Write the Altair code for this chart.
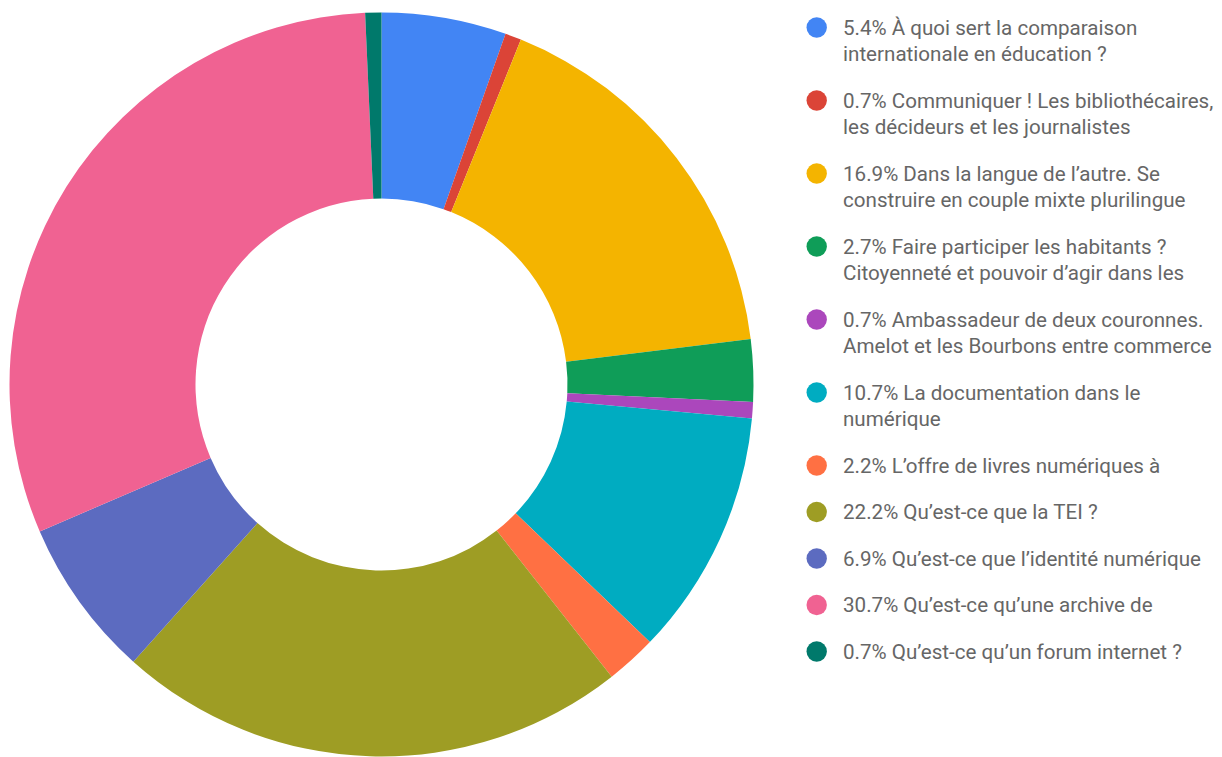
import altair as alt
import pandas as pd

# ---- data ----
categories = [
    "À quoi sert la comparaison\ninternationale en éducation ?",
    "Communiquer ! Les bibliothécaires,\nles décideurs et les journalistes",
    "Dans la langue de l’autre. Se\nconstruire en couple mixte plurilingue",
    "Faire participer les habitants ?\nCitoyenneté et pouvoir d’agir dans les",
    "Ambassadeur de deux couronnes.\nAmelot et les Bourbons entre commerce",
    "La documentation dans le\nnumérique",
    "L’offre de livres numériques à",
    "Qu’est-ce que la TEI ?",
    "Qu’est-ce que l’identité numérique",
    "Qu’est-ce qu’une archive de",
    "Qu’est-ce qu’un forum internet ?",
]
percents = [5.4, 0.7, 16.9, 2.7, 0.7, 10.7, 2.2, 22.2, 6.9, 30.7, 0.7]
colors = ["#4285F4", "#DB4437", "#F4B400", "#0F9D58", "#AB47BC", "#00ACC1",
          "#FF7043", "#9E9D24", "#5C6BC0", "#F06292", "#00796B"]

# ---- layout constants ----
W, H = 1206, 741
LINE_H = 26.5
GAP = 20.0 / LINE_H  # gap between legend items, in line units

labels = [f"{p:.1f}% {c}" for p, c in zip(percents, categories)]
slots = []
acc = 0.0
for c in categories:
    slots.append(acc)
    acc += c.count("\n") + 1 + GAP

df = pd.DataFrame({
    "idx": list(range(len(categories))),
    "cat": categories,
    "value": percents,
    "label": labels,
    "slot": slots,
})

color_scale = alt.Scale(domain=categories, range=colors)
yscale = alt.Scale(domain=[0, 28], range=[19.5, 19.5 + 28 * LINE_H])

base = alt.Chart(df)

donut = base.mark_arc(radius=372, radius2=186).encode(
    theta=alt.Theta("value:Q", stack=True),
    order=alt.Order("idx:Q"),
    color=alt.Color("cat:N", scale=color_scale, legend=None),
    x=alt.value(373.5),
    y=alt.value(376.5),
)

dots = base.mark_point(filled=True, opacity=1, shape="circle", size=415).encode(
    x=alt.value(808.7),
    y=alt.Y("slot:Q", scale=yscale, axis=None),
    color=alt.Color("cat:N", scale=color_scale, legend=None),
)

texts = base.mark_text(
    align="left", baseline="alphabetic", dy=7, lineBreak="\n",
    lineHeight=LINE_H, font="Roboto", fontSize=20.6, color="#666666",
).encode(
    x=alt.value(835),
    y=alt.Y("slot:Q", scale=yscale, axis=None),
    text="label:N",
)

chart = alt.layer(donut, dots, texts).properties(
    width=W, height=H, background="white", padding=0
).configure_view(stroke=None)

chart.save("out.html", embed_options={"renderer": "svg", "actions": False})
